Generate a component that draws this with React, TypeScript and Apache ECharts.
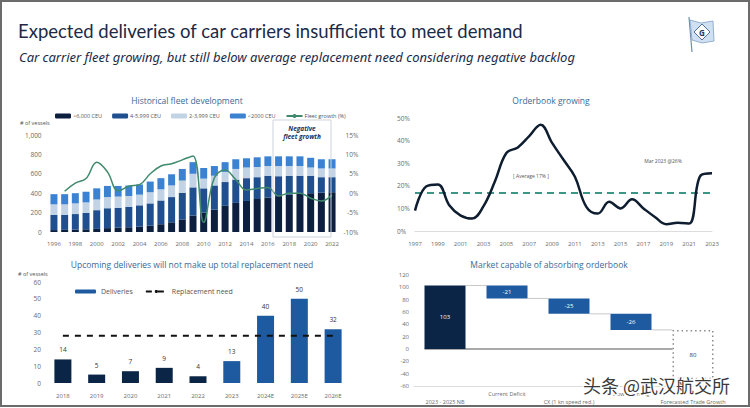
import { useEffect, useRef } from 'react';
import * as echarts from 'echarts';

// ---------- Historical fleet development ----------
const fleetYears = ['1996','1997','1998','1999','2000','2001','2002','2003','2004','2005','2006','2007','2008','2009','2010','2011','2012','2013','2014','2015','2016','2017','2018','2019','2020','2021','2022'];
const fleetOver6000 = [20,22,25,28,32,40,45,50,55,65,80,100,130,170,200,230,270,300,320,340,355,370,385,395,400,405,410];
const fleet4to6000 = [155,156,160,170,193,205,205,210,220,230,245,260,275,290,250,250,245,240,235,225,225,205,195,185,180,160,155];
const fleet2to4000 = [110,107,110,107,110,115,115,110,110,115,115,120,125,140,100,100,105,110,110,105,100,105,100,100,85,90,90];
const fleetUnder2000 = [105,105,105,110,115,115,110,110,105,110,115,115,120,120,110,100,100,100,95,100,100,100,100,100,100,95,95];
const fleetGrowthPct = [null,0.5,2.6,3.8,8.0,5.5,0.6,1.8,2.2,5.0,7.0,7.6,8.6,9.6,-7.5,4.0,6.0,3.5,0.8,1.2,1.5,-0.7,0,0,-1.3,-2.0,-0.5];

// ---------- Orderbook growing ----------
const orderbookYears = ['1997','1998','1999','2000','2001','2002','2003','2004','2005','2006','2007','2008','2009','2010','2011','2012','2013','2014','2015','2016','2017','2018','2019','2020','2021','2022','2023'];
const orderbookPct = [9,19.8,20.6,11.4,6.8,5.5,11,22,34.5,37,42,47,39,31.5,24,10.7,7.7,12.9,10,14,10,6.2,3,3.7,3.3,24.5,25.5];
const orderbookAverage = 17;

// ---------- Upcoming deliveries ----------
const deliveryYears = ['2018','2019','2020','2021','2022','2023','2024E','2025E','2026E'];
const deliveries = [14,5,7,9,4,13,40,50,32];
const replacementNeed = [28,28,28,28,28,28,28,28,28];
const actualYearsCount = 5;

// ---------- Market capable of absorbing orderbook ----------
const absorbCategories = ['2023 - 2025 NB','Current Deficit','CX (1 kn speed red.)','Slow steaming','Forecasted Trade Growth'];
const absorbSteps = [103,-21,-25,-26,-80];

const NAVY = '#0b2547';
const BLUE = '#1e5aa0';
const TITLE_BLUE = '#3a6a98';
const TICK = '#6a6a6a';
const FONT = 'Open Sans';

export default function App() {
  const ref = useRef<HTMLDivElement>(null);
  useEffect(() => {
    if (!ref.current) return;
    const chart = echarts.init(ref.current, null, { renderer: 'svg' });

    // waterfall helpers (derived from absorbSteps)
    const wfBase: number[] = [];
    const wfHeight: number[] = [];
    const wfLevels: number[][] = [];
    let running = 0;
    absorbSteps.forEach((s, i) => {
      const next = running + s;
      wfBase.push(Math.min(running, next));
      wfHeight.push(Math.abs(s));
      if (i < absorbSteps.length - 1) wfLevels.push([i, next]);
      running = next;
    });
    const lastIdx = absorbSteps.length - 1;
    const wfHalf = 20.5;

    const tickLabel = { fontSize: 6, color: TICK, fontFamily: FONT };

    const option: any = {
      animation: false,
      backgroundColor: '#ffffff',
      textStyle: { fontFamily: FONT },
      grid: [
        { left: 48.6, top: 135, width: 288.8, height: 97 },
        { left: 415, top: 118, width: 297, height: 113 },
        { left: 46, top: 282, width: 304, height: 101 },
        { left: 414, top: 275, width: 310, height: 111 },
      ],
      legend: [
        {
          data: ['>6,000 CEU', '4-5,999 CEU', '2-3,999 CEU', '<2000 CEU', 'Fleet growth (%)'],
          left: 50, top: 108, itemWidth: 16, itemHeight: 5, itemGap: 10,
          textStyle: { fontSize: 5.5, color: '#555', padding: [0, 0, 0, -3] },
          selectedMode: false,
        },
        {
          data: ['Deliveries', 'Replacement need'],
          left: 70, top: 283, itemWidth: 21, itemHeight: 4, itemGap: 12,
          textStyle: { fontSize: 7, color: '#555' },
          selectedMode: false,
        },
      ],
      xAxis: [
        { type: 'category', gridIndex: 0, data: fleetYears, axisLine: { show: false }, axisTick: { show: false },
          axisLabel: { ...tickLabel, interval: 1, margin: 9 } },
        { type: 'category', gridIndex: 1, data: orderbookYears, boundaryGap: false,
          axisLine: { lineStyle: { color: '#dddddd' } }, axisTick: { show: false },
          axisLabel: { ...tickLabel, interval: 1, margin: 10 } },
        { type: 'category', gridIndex: 2, data: deliveryYears, axisLine: { show: false }, axisTick: { show: false },
          axisLabel: { ...tickLabel, margin: 10 } },
        { type: 'category', gridIndex: 3, data: absorbCategories,
          axisLine: { onZero: false, lineStyle: { color: '#dddddd' } }, axisTick: { show: false },
          axisLabel: { ...tickLabel, fontSize: 5.5, interval: 0, margin: 4, lineHeight: 8,
            formatter: (v: string, i: number) => (i % 2 ? v : '\n' + v) } },
      ],
      yAxis: [
        { type: 'value', gridIndex: 0, min: 0, max: 1000, interval: 200, splitLine: { show: false },
          axisLabel: { ...tickLabel, fontSize: 6.5, margin: 7, formatter: (v: number) => v.toLocaleString('en-US') } },
        { type: 'value', gridIndex: 0, position: 'right', min: -10, max: 15, interval: 5, splitLine: { show: false },
          axisLabel: { ...tickLabel, fontSize: 6.5, align: 'right', margin: 21, formatter: '{value}%' } },
        { type: 'value', gridIndex: 1, min: 0, max: 50, interval: 10, splitLine: { show: false },
          axisLabel: { ...tickLabel, fontSize: 6.5, align: 'left', margin: 18, formatter: '{value}%' } },
        { type: 'value', gridIndex: 2, min: 0, max: 60, interval: 10, splitLine: { show: false },
          axisLabel: { ...tickLabel, fontSize: 6.5, margin: 5 } },
        { type: 'value', gridIndex: 3, min: -60, max: 120, interval: 20, splitLine: { show: false },
          axisLabel: { ...tickLabel, fontSize: 6, margin: 5 } },
      ],
      series: [
        { name: '>6,000 CEU', type: 'bar', stack: 'fleet', xAxisIndex: 0, yAxisIndex: 0, barWidth: 7, data: fleetOver6000, itemStyle: { color: '#0c1f3f' } },
        { name: '4-5,999 CEU', type: 'bar', stack: 'fleet', xAxisIndex: 0, yAxisIndex: 0, barWidth: 7, data: fleet4to6000, itemStyle: { color: '#1f4f8e' } },
        { name: '2-3,999 CEU', type: 'bar', stack: 'fleet', xAxisIndex: 0, yAxisIndex: 0, barWidth: 7, data: fleet2to4000, itemStyle: { color: '#c3d3e6' } },
        { name: '<2000 CEU', type: 'bar', stack: 'fleet', xAxisIndex: 0, yAxisIndex: 0, barWidth: 7, data: fleetUnder2000, itemStyle: { color: '#3b83d2' } },
        { name: 'Fleet growth (%)', type: 'line', xAxisIndex: 0, yAxisIndex: 1, data: fleetGrowthPct, smooth: 0.4,
          symbol: 'none', lineStyle: { color: '#3f8a6c', width: 1.5 }, itemStyle: { color: '#3f8a6c' }, z: 5 },

        { name: 'Orderbook', type: 'line', xAxisIndex: 1, yAxisIndex: 2, data: orderbookPct, smooth: 0.4,
          symbol: 'none', lineStyle: { color: '#0f1d30', width: 2.5 }, z: 5,
          markLine: { silent: true, symbol: 'none', label: { show: false },
            lineStyle: { color: '#3c9585', width: 2, type: [7, 5] }, data: [{ yAxis: orderbookAverage }] } },

        { name: 'Deliveries', type: 'bar', xAxisIndex: 2, yAxisIndex: 3, barWidth: 17,
          itemStyle: { color: BLUE },
          data: deliveries.map((v, i) => (i < actualYearsCount ? { value: v, itemStyle: { color: NAVY } } : v)),
          label: { show: true, position: 'top', fontSize: 6.5, color: '#333', distance: 6 } },
        { name: 'Replacement need', type: 'line', xAxisIndex: 2, yAxisIndex: 3, data: replacementNeed,
          symbol: 'none', lineStyle: { color: '#111', width: 2, type: [6, 6] }, itemStyle: { color: '#111' }, z: 5 },

        { name: 'wfBase', type: 'bar', stack: 'wf', stackStrategy: 'all', xAxisIndex: 3, yAxisIndex: 4, barWidth: 41,
          data: wfBase, itemStyle: { color: 'transparent' }, silent: true },
        { name: 'wfValue', type: 'bar', stack: 'wf', stackStrategy: 'all', xAxisIndex: 3, yAxisIndex: 4, barWidth: 41,
          data: wfHeight.map((h, i) => ({
            value: h,
            itemStyle: i === 0 ? { color: NAVY } : i === lastIdx
              ? { color: '#ffffff', borderColor: '#8a8a8a', borderWidth: 1.5, borderType: [1.5, 3] }
              : { color: BLUE },
            label: { show: true, position: 'inside', fontSize: 6, color: i === lastIdx ? '#333' : '#ffffff',
              formatter: () => String(i === lastIdx ? Math.abs(absorbSteps[i]) : absorbSteps[i]) },
          })) },
        { name: 'connectors', type: 'custom', xAxisIndex: 3, yAxisIndex: 4, data: wfLevels, silent: true, z: 1,
          renderItem: (_p: any, api: any) => {
            const a = api.coord([api.value(0), api.value(1)]);
            const b = api.coord([api.value(0) + 1, api.value(1)]);
            return { type: 'line', shape: { x1: a[0] + wfHalf, y1: a[1], x2: b[0] - wfHalf, y2: b[1] },
              style: { stroke: '#c8c8c8', lineWidth: 1 } };
          } },
        { name: 'zeroLine', type: 'custom', xAxisIndex: 3, yAxisIndex: 4, data: [[0, lastIdx]], silent: true, z: 1,
          renderItem: (_p: any, api: any) => {
            const a = api.coord([api.value(0), 0]);
            const b = api.coord([api.value(1), 0]);
            return { type: 'line', shape: { x1: a[0] - wfHalf, y1: a[1], x2: b[0] - wfHalf, y2: b[1] },
              style: { stroke: '#555', lineWidth: 1 } };
          } },
      ],
      graphic: [
        { type: 'rect', shape: { x: 1, y: 1, width: 748, height: 405 }, style: { fill: 'none', stroke: '#6b6b6b', lineWidth: 2 }, z: 100, silent: true },
        { type: 'text', x: 18, y: 31, style: { text: 'Expected deliveries of car carriers insufficient to meet demand', fill: '#1b2a47', font: '18.5px Lato', verticalAlign: 'middle' } },
        { type: 'text', x: 19, y: 57, style: { text: 'Car carrier fleet growing, but still below average replacement need considering negative backlog', fill: '#1b2a47', font: 'italic 13px "Noto Sans"', verticalAlign: 'middle' } },
        // logo
        { type: 'line', shape: { x1: 689, y1: 17, x2: 692, y2: 52 }, style: { stroke: '#6f8fb5', lineWidth: 1.2 } },
        { type: 'polygon', shape: { points: [[690, 20], [701, 23], [713, 21], [714, 41], [702, 43], [692, 40]] }, style: { fill: '#cfe0f3', stroke: '#7f9fc5', lineWidth: 0.8 } },
        { type: 'polygon', shape: { points: [[702, 24], [710, 32], [702, 40], [694, 32]] }, style: { fill: '#ffffff', stroke: '#2a4f80', lineWidth: 0.8 } },
        { type: 'text', x: 702, y: 32, style: { text: 'G', fill: '#1b3a66', font: 'bold 8px "Open Sans"', align: 'center', verticalAlign: 'middle' } },
        // panel titles
        { type: 'text', x: 187, y: 100, style: { text: 'Historical fleet development', fill: TITLE_BLUE, font: '8.5px "Open Sans"', align: 'center', verticalAlign: 'middle' } },
        { type: 'text', x: 551, y: 100, style: { text: 'Orderbook growing', fill: TITLE_BLUE, font: '8.5px "Open Sans"', align: 'center', verticalAlign: 'middle' } },
        { type: 'text', x: 192, y: 264, style: { text: 'Upcoming deliveries will not make up total replacement need', fill: TITLE_BLUE, font: '8.5px "Open Sans"', align: 'center', verticalAlign: 'middle' } },
        { type: 'text', x: 549, y: 264, style: { text: 'Market capable of absorbing orderbook', fill: TITLE_BLUE, font: '8.5px "Open Sans"', align: 'center', verticalAlign: 'middle' } },
        { type: 'text', x: 20, y: 123, style: { text: '# of vessels', fill: '#555', font: '5.5px "Open Sans"', verticalAlign: 'middle' } },
        { type: 'text', x: 18, y: 274, style: { text: '# of vessels', fill: '#555', font: '5.5px "Open Sans"', verticalAlign: 'middle' } },
        // negative fleet growth box
        { type: 'rect', shape: { x: 273, y: 120, width: 58, height: 117 }, style: { fill: 'none', stroke: '#cdd5de', lineWidth: 1 }, z: 10 },
        { type: 'text', x: 302, y: 128, style: { text: 'Negative', fill: '#1b2f5a', font: 'italic bold 6.5px "Open Sans"', align: 'center', verticalAlign: 'middle' } },
        { type: 'text', x: 302, y: 136, style: { text: 'fleet growth', fill: '#1b2f5a', font: 'italic bold 6.5px "Open Sans"', align: 'center', verticalAlign: 'middle' } },
        // orderbook annotations
        { type: 'text', x: 531, y: 176, style: { text: '[ Average 17% ]', fill: '#555', font: '5px "Open Sans"', align: 'center', verticalAlign: 'middle' } },
        { type: 'text', x: 663, y: 161, style: { text: 'Mar 2023 @26%', fill: '#555', font: '5px "Open Sans"', align: 'center', verticalAlign: 'middle' } },
        // watermark
        { type: 'text', x: 583, y: 385, z: 50, style: { text: '头条 @武汉航交所', fill: '#3a3a3a', stroke: '#ffffff', lineWidth: 3, font: '18px "Noto Sans CJK SC"', verticalAlign: 'middle' } },
      ],
    };
    chart.setOption(option);
    return () => chart.dispose();
  }, []);
  return <div ref={ref} style={{ position: 'fixed', left: 0, top: 0, width: 750, height: 408, background: '#fff' }} />;
}
